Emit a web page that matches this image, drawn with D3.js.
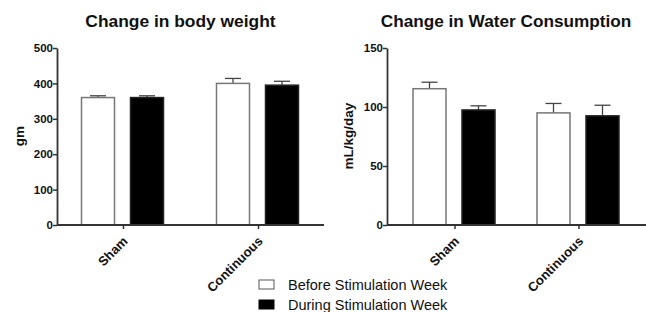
<!DOCTYPE html>
<html>
<head>
<meta charset="utf-8">
<script src="https://cdn.jsdelivr.net/npm/d3@7"></script>
<style>
  body { margin: 0; background: #fff; }
  svg { font-family: Arial, "Liberation Sans", sans-serif; }
</style>
</head>
<body>
<div id="chart"></div>
<script>
const groups = ["Sham", "Continuous"];
const seriesNames = ["Before Stimulation Week", "During Stimulation Week"];

// body weight (gm)
const weightBefore = [360, 400];
const weightBeforeErr = [5, 14];
const weightDuring = [360, 395];
const weightDuringErr = [5, 11];
const weightTicks = [0, 100, 200, 300, 400, 500];

// water consumption (mL/kg/day)
const waterBefore = [115.5, 95];
const waterBeforeErr = [5.5, 8];
const waterDuring = [97.5, 92.5];
const waterDuringErr = [3.5, 9];
const waterTicks = [0, 50, 100, 150];

const fills = ["#fff", "#000"];
const strokes = ["#777", "#222"];

const svg = d3.select("#chart").append("svg")
    .attr("width", 646)
    .attr("height", 312);

function drawPanel(cfg) {
    const g = svg.append("g");

    const x = d3.scalePoint()
        .domain(groups)
        .range([cfg.x0 + cfg.pad, cfg.x1 - cfg.pad]);
    const y = d3.scaleLinear()
        .domain([0, cfg.max])
        .range([225, 48]);

    const barW = 33;
    const gap = 16;
    const offsets = [-(barW + gap / 2) - 0.5 + barW / 2, gap / 2 + barW / 2 - 0.5];

    // bars and error bars
    cfg.series.forEach((s, si) => {
        groups.forEach((grp, gi) => {
            const cx = x(grp) + offsets[si];
            const v = s.values[gi];
            const e = s.errs[gi];
            g.append("line")
                .attr("x1", cx).attr("x2", cx)
                .attr("y1", y(v)).attr("y2", y(v + e))
                .attr("stroke", "#444").attr("stroke-width", 1.3);
            g.append("line")
                .attr("x1", cx - 8).attr("x2", cx + 8)
                .attr("y1", y(v + e)).attr("y2", y(v + e))
                .attr("stroke", "#444").attr("stroke-width", 1.3);
            g.append("rect")
                .attr("x", cx - barW / 2)
                .attr("y", y(v))
                .attr("width", barW)
                .attr("height", y(0) - y(v))
                .attr("fill", fills[si])
                .attr("stroke", strokes[si])
                .attr("stroke-width", 1.5);
        });
    });

    // y axis
    const yAxis = g.append("g")
        .attr("transform", `translate(${cfg.x0},0)`)
        .call(d3.axisLeft(y).tickValues(cfg.ticks).tickSize(4).tickSizeOuter(0));
    yAxis.select(".domain").attr("stroke", "#333").attr("stroke-width", 1.8);
    yAxis.selectAll(".tick line").attr("stroke", "#333").attr("stroke-width", 1.5);
    yAxis.selectAll(".tick text")
        .attr("x", -4)
        .attr("fill", "#111")
        .style("font-size", "11.5px")
        .style("font-weight", "bold");

    // x axis
    const xAxis = g.append("g")
        .attr("transform", "translate(0,225)")
        .call(d3.axisBottom(x).tickSize(4).tickSizeOuter(0));
    xAxis.select(".domain")
        .attr("d", `M${cfg.x0},0H${cfg.x1}`)
        .attr("stroke", "#333").attr("stroke-width", 1.8);
    xAxis.selectAll(".tick line").attr("stroke", "#333").attr("stroke-width", 1.5);
    xAxis.selectAll(".tick text")
        .attr("fill", "#111")
        .style("font-size", "13px")
        .style("font-weight", "bold")
        .attr("text-anchor", "end")
        .attr("dy", 0)
        .attr("y", 0)
        .attr("transform", "translate(5,17) rotate(-45)");

    // title
    g.append("text")
        .attr("x", cfg.titleX)
        .attr("y", 27)
        .attr("text-anchor", "middle")
        .style("font-size", cfg.titleSize)
        .style("font-weight", "bold")
        .attr("fill", "#111")
        .text(cfg.title);

    // y label
    g.append("text")
        .attr("transform", `translate(${cfg.labelX},136) rotate(-90)`)
        .attr("text-anchor", "middle")
        .style("font-size", "13.5px")
        .style("font-weight", "bold")
        .attr("fill", "#111")
        .text(cfg.ylabel);
}

drawPanel({
    x0: 57, x1: 324, pad: 66, max: 500, ticks: weightTicks,
    title: "Change in body weight", titleX: 180.5, titleSize: "17.4px", ylabel: "gm", labelX: 24,
    series: [
        { values: weightBefore, errs: weightBeforeErr },
        { values: weightDuring, errs: weightDuringErr }
    ]
});

drawPanel({
    x0: 387, x1: 646, pad: 67.5, max: 150, ticks: waterTicks,
    title: "Change in Water Consumption", titleX: 506, titleSize: "17.2px", ylabel: "mL/kg/day", labelX: 353,
    series: [
        { values: waterBefore, errs: waterBeforeErr },
        { values: waterDuring, errs: waterDuringErr }
    ]
});

// legend
const legend = svg.append("g").attr("transform", "translate(259,280)");
seriesNames.forEach((name, i) => {
    const row = legend.append("g").attr("transform", `translate(0,${i * 20})`);
    row.append("rect")
        .attr("x", 0).attr("y", 0)
        .attr("width", 15).attr("height", 9)
        .attr("fill", fills[i])
        .attr("stroke", i === 0 ? "#555" : "#000")
        .attr("stroke-width", 1);
    row.append("text")
        .attr("x", 29).attr("y", 9.5)
        .style("font-size", "14.5px")
        .attr("fill", "#111")
        .text(name);
});
</script>
</body>
</html>
